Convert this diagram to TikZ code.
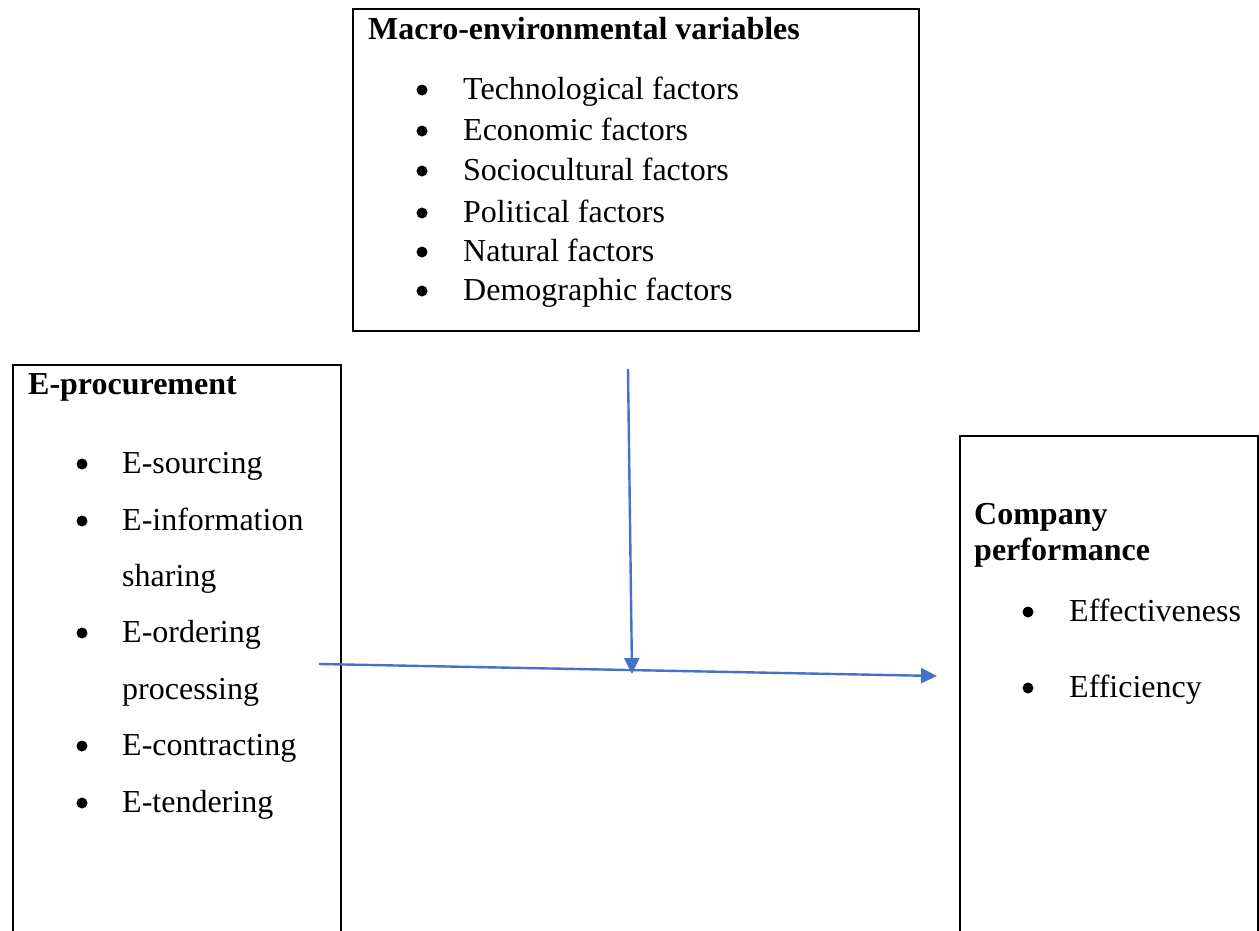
\documentclass[tikz,border=0pt]{standalone}
\usepackage{fontspec}
\setmainfont{Liberation Serif}
\usetikzlibrary{arrows.meta}
\definecolor{arrowblue}{RGB}{68,114,196}
\begin{document}
\begin{tikzpicture}[x=1pt,y=-1pt,
  box/.style={draw=black,line width=2.2pt,anchor=north west,inner sep=0pt},
  txt/.style={anchor=base west,inner sep=0pt,font=\fontsize{32}{38}\selectfont},
  ttl/.style={txt,font=\fontsize{32}{38}\selectfont\bfseries},
  bul/.style={fill=black,circle,inner sep=0pt,minimum size=11pt},
  conn/.style={draw=arrowblue,line width=2.4pt,-{Triangle[length=16pt,width=15pt]}}]
\clip (0,0) rectangle (1259,930);
\fill[white] (0,0) rectangle (1259,930);
% boxes
\node[box,minimum width=566pt,minimum height=322pt] (macro) at (352,8) {};
\node[box,minimum width=328pt,minimum height=600pt] (eproc) at (12,364) {};
\node[box,minimum width=298pt,minimum height=600pt] (perf) at (959,435) {};
% top box text
\node[ttl] (mt) at (368,39) {Macro-environmental variables};
\foreach \y/\t [count=\i] in {99/Technological factors,140/Economic factors,180/Sociocultural factors,222/Political factors,261/Natural factors,300/Demographic factors}{
  \node[txt] (m\i) at (463,\y) {\t};
  \node[bul] (mb\i) at (422,\y-9) {};
}
% left box text
\node[ttl] (et) at (28,394) {E-procurement};
\foreach \y/\t [count=\i] in {473/E-sourcing,530/E-information,586/sharing,642/E-ordering,699/processing,755/E-contracting,812/E-tendering}{
  \node[txt] (e\i) at (122,\y) {\t};
}
\foreach \y [count=\i] in {473,530,642,755,812}{
  \node[bul] (eb\i) at (82,\y-9) {};
}
% right box text
\node[ttl] (pt1) at (974,524) {Company};
\node[ttl] (pt2) at (974,560) {performance};
\node[txt] (p1) at (1069,621) {Effectiveness};
\node[txt] (p2) at (1069,697) {Efficiency};
\node[bul] (pb1) at (1028,612) {};
\node[bul] (pb2) at (1028,688) {};
% connectors
\coordinate (hs) at (319,664);
\coordinate (he) at (937,676);
\coordinate (vs) at (628,369);
\coordinate (ve) at (632,674);
\draw[conn] (hs) -- (he);
\draw[conn] (vs) -- (ve);
\end{tikzpicture}
\end{document}
